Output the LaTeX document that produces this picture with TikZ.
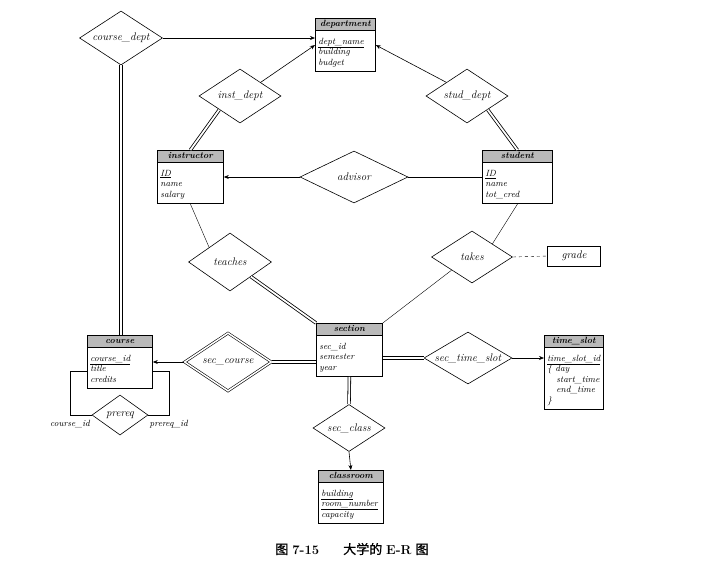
\documentclass[tikz,border=0pt]{standalone}
\usepackage{fontspec}
\newfontfamily\cjk[FakeBold=1]{Noto Sans CJK SC}
\usetikzlibrary{arrows.meta,positioning,shapes.geometric,shapes.multipart}
% header and padding struts for the entity boxes
\newcommand{\ehd}[1]{\rule[-2pt]{0pt}{8pt}\textbf{#1}}
\newcommand{\etop}{\rule{0pt}{12pt}}
\newcommand{\ebot}{\rule[-4.5pt]{0pt}{4.5pt}}

\begin{document}
\begin{tikzpicture}[x=1pt, y=-1pt,
  entity/.style={rectangle split, rectangle split parts=2, draw, thick,
    rectangle split part fill={gray!55,white},
    rectangle split part align={center,left},
    align=left, anchor=north west, inner xsep=3pt, inner ysep=1.5pt,
    font=\fontsize{9}{10.5}\selectfont\itshape},
  rel/.style 2 args={diamond, draw, semithick, inner sep=0pt, aspect=1.7,
    minimum width=#1, minimum height=#2, font=\fontsize{11}{13}\selectfont\itshape},
  attr/.style={draw, semithick, minimum width=53, minimum height=20,
    font=\fontsize{11}{13}\selectfont\itshape},
  lbl/.style={font=\fontsize{9}{10}\selectfont\itshape, inner sep=1pt},
  arr/.style={-{Stealth[length=5pt,width=4pt]}, semithick},
  tot/.style={double, double distance=1.8pt, line width=0.8pt},
]
\useasboundingbox (0,0) rectangle (715,563);
% entity sets
\node[entity, minimum width=60] (dept) at (315,18)
  {\ehd{department}\nodepart{two}\etop\underline{dept\_name}\\building\\budget\ebot};
\node[entity, minimum width=66] (instr) at (157,150)
  {\ehd{instructor}\nodepart{two}\etop\underline{ID}\\name\\salary\ebot};
\node[entity, minimum width=70] (stud) at (482,150)
  {\ehd{student}\nodepart{two}\etop\underline{ID}\\name\\tot\_cred\ebot};
\node[entity, minimum width=65] (course) at (87,335)
  {\ehd{course}\nodepart{two}\etop\underline{course\_id}\\title\\credits\ebot};
\node[entity, minimum width=66] (sect) at (316,323)
  {\ehd{section}\nodepart{two}\etop sec\_id\\semester\\year\ebot};
\node[entity, minimum width=57] (tslot) at (544,335)
  {\ehd{time\_slot}\nodepart{two}\etop\underline{time\_slot\_id}\\\{ day\\\hspace*{9pt}start\_time\\\hspace*{9pt}end\_time\\\}\ebot};
\node[entity, minimum width=65] (room) at (318,470)
  {\ehd{classroom}\nodepart{two}\etop\underline{building}\\\underline{room\_number}\\capacity\ebot};
% relationship sets
\node[rel={83}{54}] (cdept) at (121,38) {course\_dept};
\node[rel={82}{54}] (idept) at (240,96) {inst\_dept};
\node[rel={82}{54}] (sdept) at (467,96) {stud\_dept};
\node[rel={108}{52}] (advisor) at (354,177) {advisor};
\node[rel={83}{58}] (teaches) at (230,262) {teaches};
\node[rel={81}{52}] (takes) at (472,257) {takes};
\node[rel={87}{58}, double, double distance=1.5pt] (seccourse) at (228,362) {sec\_course};
\node[rel={88}{52}] (sectime) at (468,358) {sec\_time\_slot};
\node[rel={72}{47}] (secclass) at (349,428) {sec\_class};
\node[rel={56}{40}] (prereq) at (120,415) {prereq};
\node[attr] (grade) at (574,256) {grade};
% --- department ---
\draw[arr] (cdept.east) -- (cdept.east -| dept.west);
\draw[arr] (idept.north east) -- (dept.west);
\draw[arr] (sdept.north west) -- (dept.east);
\draw[tot] (idept.south west) -- (instr.north);
\draw[tot] (sdept.south east) -- (stud.north);
% --- advisor, teaches, takes ---
\draw[arr] (advisor.west) -- (advisor.west -| instr.east);
\draw (advisor.east) -- (advisor.east -| stud.west);
\draw (instr.south) -- (teaches.north west);
\draw[tot] (teaches.south east) -- (sect.north west);
\draw (stud.south) -- (takes.north east);
\draw (takes.south west) -- (sect.north east);
\draw[dashed] (takes.east) -- (grade.west);
% --- course ---
\draw[tot] (cdept.south) -- (cdept.south |- course.north);
\draw[arr] (seccourse.west) -- (seccourse.west -| course.east);
\draw[tot] (seccourse.east) -- (seccourse.east -| sect.west);
\draw ([yshift=-9pt]course.west) -- ++(-17,0) |- node[lbl,below=4pt,pos=0.5] {course\_id} (prereq.west);
\draw ([yshift=-9pt]course.east) -- ++(16,0) |- node[lbl,below=4pt,pos=0.5] {prereq\_id} (prereq.east);
% --- time slot, classroom ---
\draw[tot] (sectime.west -| sect.east) -- (sectime.west);
\draw[arr] (sectime.east) -- (sectime.east -| tslot.west);
\draw[tot] (sect.south) -- (secclass.north);
\draw[arr] (secclass.south) -- (room.north);
% caption
\node[font=\fontsize{13}{15}\selectfont] (cap) at (352,549)
  {{\cjk 图}\hspace{4pt}\textbf{7-15}\hspace{24pt}{\cjk 大学的}\hspace{4pt}\textbf{E-R}\hspace{4pt}{\cjk 图}};
\end{tikzpicture}
\end{document}
